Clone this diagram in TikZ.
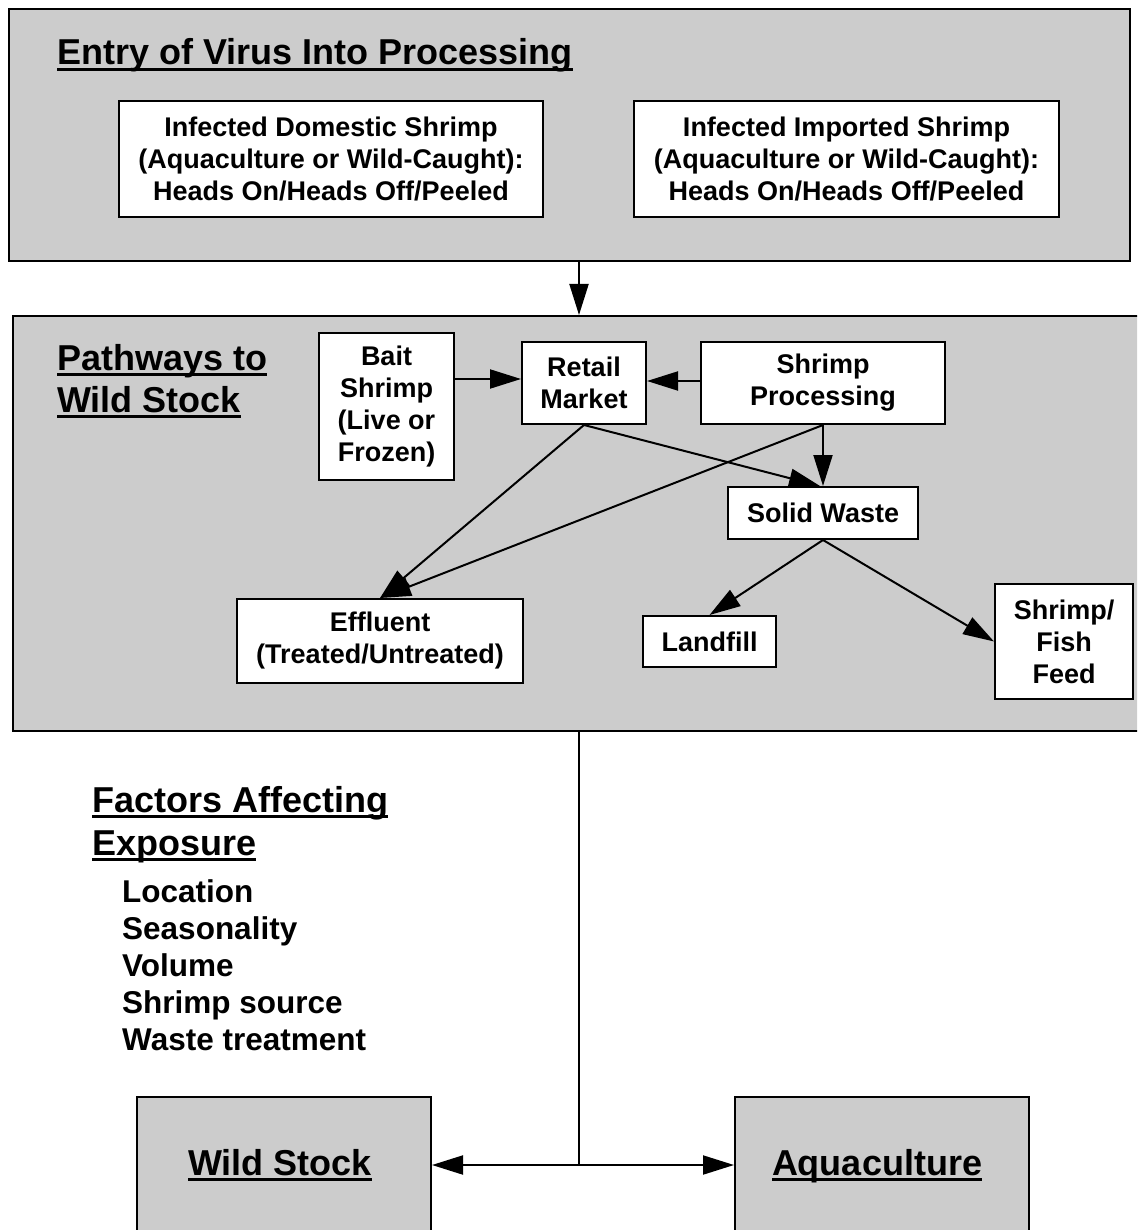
\documentclass[tikz,border=0pt]{standalone}
\usepackage{fontspec}
\setmainfont{Liberation Sans}
\usetikzlibrary{arrows.meta}
\definecolor{panelgray}{HTML}{CCCCCC}
\newsavebox\ulbox
\newcommand\ulin[1]{\sbox\ulbox{#1}\rlap{\rule[-0.17em]{\wd\ulbox}{0.08em}}\usebox\ulbox}
\begin{document}
\begin{tikzpicture}[x=1pt,y=-1pt,
  panel/.style={draw=black, fill=panelgray, line width=2pt, inner sep=0pt, anchor=north west},
  wbox/.style={draw=black, fill=white, line width=2pt, inner sep=0pt, align=center, font=\bfseries\fontsize{27}{32}\selectfont},
  head/.style={inner sep=0pt, anchor=base west, font=\bfseries\fontsize{36}{43}\selectfont},
  item/.style={inner sep=0pt, anchor=base west, font=\bfseries\fontsize{31.5}{37}\selectfont},
  arr/.style={line width=2pt, -{Triangle[length=31pt,width=19pt]}},
  conn/.style={line width=2pt}]
\useasboundingbox (0,0) rectangle (1137,1230);
\clip (0,0) rectangle (1137,1230);

% top panel
\node[panel, minimum width=1121, minimum height=252] (top) at (8,8) {};
\node[head] (toptitle) at (57,65) {\ulin{Entry of Virus Into Processing}};
\node[wbox, minimum width=424, minimum height=116] (dom) at (331,159) {Infected Domestic Shrimp\\(Aquaculture or Wild-Caught):\\Heads On/Heads Off/Peeled};
\node[wbox, minimum width=425, minimum height=116] (imp) at (846.5,159) {Infected Imported Shrimp\\(Aquaculture or Wild-Caught):\\Heads On/Heads Off/Peeled};

% middle panel
\node[panel, minimum width=1140, minimum height=415] (mid) at (12,315) {};
\node[head] (pw1) at (57,370) {\ulin{Pathways to}};
\node[head] (pw2) at (57,412) {\ulin{Wild Stock}};
\node[wbox, minimum width=135, minimum height=147] (bait) at (386.5,406.5) {Bait\\Shrimp\\(Live or\\Frozen)};
\node[wbox, minimum width=124, minimum height=82] (retail) at (584,383) {Retail\\Market};
\node[wbox, minimum width=244, minimum height=82] (proc) at (823,383) {Shrimp\\Processing};
\node[wbox, minimum width=190, minimum height=52] (solid) at (823,513) {Solid Waste};
\node[wbox, minimum width=286, minimum height=84] (effl) at (380,641) {Effluent\\(Treated/Untreated)};
\node[wbox, minimum width=133, minimum height=51] (landfill) at (709.5,641.5) {Landfill};
\node[wbox, minimum width=138, minimum height=115] (feed) at (1064,641.5) {Shrimp/\\Fish\\Feed};

\path ([yshift=4pt]retail.west) coordinate (rw);
\draw[arr] (bait.east |- rw) -- (rw);
\draw[arr] ([yshift=2pt]proc.west) -- ([yshift=2pt]retail.east);
\draw[arr] (retail.south) -- (effl.north);
\draw[arr] (proc.south) -- (effl.north);
\draw[arr] (retail.south) -- ([xshift=-3pt]solid.north);
\draw[arr] (proc.south) -- (solid.north);
\draw[arr] (solid.south) -- (landfill.north);
\draw[arr] (solid.south) -- (feed.west);

% factors
\node[head] (fa1) at (92,812) {\ulin{Factors Affecting}};
\node[head] (fa2) at (92,855) {\ulin{Exposure}};
\node[item] (f1) at (122,902) {Location};
\node[item] (f2) at (122,939) {Seasonality};
\node[item] (f3) at (122,976) {Volume};
\node[item] (f4) at (122,1013) {Shrimp source};
\node[item] (f5) at (122,1050) {Waste treatment};

% bottom panels
\node[panel, minimum width=294, minimum height=170] (wild) at (136,1096) {};
\node[head, anchor=base] (wildt) at (280,1175) {\ulin{Wild Stock}};
\node[panel, minimum width=294, minimum height=170] (aqua) at (734,1096) {};
\node[head, anchor=base] (aquat) at (877,1175) {\ulin{Aquaculture}};

% spine connectors
\coordinate (spine) at (579,1165);
\draw[arr] (spine |- top.south) -- (spine |- mid.north);
\draw[conn] (spine |- mid.south) -- (spine);
\draw[arr] (spine) -- (spine -| wild.east);
\draw[arr] (spine) -- (spine -| aqua.west);
\end{tikzpicture}
\end{document}
